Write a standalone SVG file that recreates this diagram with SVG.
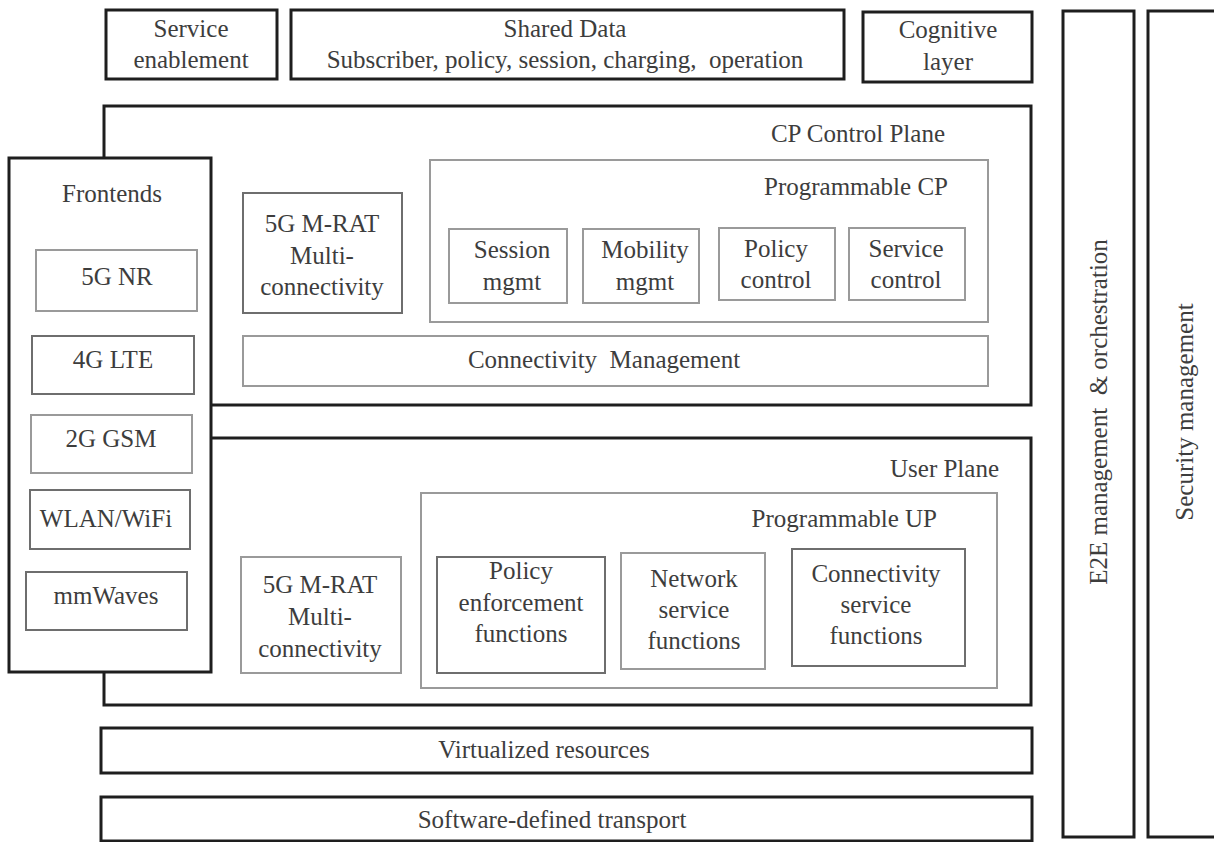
<svg xmlns="http://www.w3.org/2000/svg" width="1214" height="842" viewBox="0 0 1214 842">
  <style>
    text { font-family: "Liberation Serif", Tinos, "Times New Roman", Times, "Nimbus Roman", "DejaVu Serif", serif; font-size: 25px; fill: #3d3d3d; text-anchor: middle; }
    .r { text-anchor: end; }
    .outer { fill: none; stroke: #1e1e1e; stroke-width: 3; }
    .inner { fill: none; stroke: #9a9a9a; stroke-width: 2; }
    .mid { fill: none; stroke: #6e6e6e; stroke-width: 2; }
  </style>
  <rect width="1214" height="842" fill="#ffffff"/>

  <!-- top row -->
  <g id="service-enablement">
    <rect class="outer" x="106" y="10" width="171" height="69"/>
    <text x="191" y="37">Service</text>
    <text x="191" y="68">enablement</text>
  </g>
  <g id="shared-data">
    <rect class="outer" x="291" y="10" width="553" height="69"/>
    <text x="565" y="37">Shared Data</text>
    <text x="565" y="68" xml:space="preserve">Subscriber, policy, session, charging,  operation</text>
  </g>
  <g id="cognitive-layer">
    <rect class="outer" x="863" y="12" width="169" height="70"/>
    <text x="948" y="38">Cognitive</text>
    <text x="948" y="70">layer</text>
  </g>

  <!-- control plane -->
  <g id="control-plane">
    <rect class="outer" x="104" y="106" width="927" height="299"/>
    <text class="r" x="945" y="142">CP Control Plane</text>
  </g>
  <g id="cp-mrat">
    <rect class="mid" x="243" y="193" width="159" height="120"/>
    <text x="322" y="232">5G M-RAT</text>
    <text x="322" y="264">Multi-</text>
    <text x="322" y="295">connectivity</text>
  </g>
  <g id="programmable-cp">
    <rect class="inner" x="430" y="160" width="558" height="162"/>
    <text class="r" x="948" y="195">Programmable CP</text>
  </g>
  <g id="session-mgmt">
    <rect class="inner" x="449" y="229" width="118" height="74"/>
    <text x="512" y="258">Session</text>
    <text x="512" y="290">mgmt</text>
  </g>
  <g id="mobility-mgmt">
    <rect class="inner" x="583" y="229" width="116" height="74"/>
    <text x="645" y="258">Mobility</text>
    <text x="645" y="290">mgmt</text>
  </g>
  <g id="policy-control">
    <rect class="inner" x="719" y="228" width="116" height="72"/>
    <text x="776" y="257">Policy</text>
    <text x="776" y="288">control</text>
  </g>
  <g id="service-control">
    <rect class="inner" x="849" y="228" width="116" height="72"/>
    <text x="906" y="257">Service</text>
    <text x="906" y="288">control</text>
  </g>
  <g id="connectivity-management">
    <rect class="inner" x="243" y="336" width="745" height="50"/>
    <text x="604" y="368" xml:space="preserve">Connectivity  Management</text>
  </g>

  <!-- user plane -->
  <g id="user-plane">
    <rect class="outer" x="104" y="438" width="927" height="267"/>
    <text class="r" x="999" y="477">User Plane</text>
  </g>
  <g id="up-mrat">
    <rect class="inner" x="241" y="557" width="160" height="116"/>
    <text x="320" y="593">5G M-RAT</text>
    <text x="320" y="625">Multi-</text>
    <text x="320" y="657">connectivity</text>
  </g>
  <g id="programmable-up">
    <rect class="inner" x="421" y="493" width="576" height="195"/>
    <text class="r" x="937" y="527">Programmable UP</text>
  </g>
  <g id="policy-enforcement">
    <rect class="mid" x="437" y="557" width="168" height="116"/>
    <text x="521" y="579">Policy</text>
    <text x="521" y="611">enforcement</text>
    <text x="521" y="642">functions</text>
  </g>
  <g id="network-service">
    <rect class="inner" x="621" y="553" width="144" height="116"/>
    <text x="694" y="587">Network</text>
    <text x="694" y="618">service</text>
    <text x="694" y="649">functions</text>
  </g>
  <g id="connectivity-service">
    <rect class="mid" x="792" y="549" width="173" height="117"/>
    <text x="876" y="582">Connectivity</text>
    <text x="876" y="613">service</text>
    <text x="876" y="644">functions</text>
  </g>

  <!-- frontends (drawn over the plane frames) -->
  <g id="frontends">
    <rect x="9" y="158" width="202" height="514" fill="#ffffff" stroke="#1e1e1e" stroke-width="3"/>
    <text x="112" y="202">Frontends</text>
  </g>
  <g id="fe-5g-nr">
    <rect class="inner" x="36" y="250" width="161" height="61"/>
    <text x="117" y="285">5G NR</text>
  </g>
  <g id="fe-4g-lte">
    <rect class="mid" x="32" y="336" width="162" height="58"/>
    <text x="113" y="368">4G LTE</text>
  </g>
  <g id="fe-2g-gsm">
    <rect class="inner" x="31" y="415" width="161" height="58"/>
    <text x="111" y="447">2G GSM</text>
  </g>
  <g id="fe-wlan">
    <rect class="mid" x="30" y="490" width="160" height="59"/>
    <text x="106" y="527">WLAN/WiFi</text>
  </g>
  <g id="fe-mmwaves">
    <rect class="mid" x="26" y="572" width="161" height="58"/>
    <text x="106" y="604">mmWaves</text>
  </g>

  <!-- infrastructure layers -->
  <g id="virtualized-resources">
    <rect class="outer" x="101" y="728" width="931" height="45"/>
    <text x="544" y="758">Virtualized resources</text>
  </g>
  <g id="sdn-transport">
    <rect class="outer" x="101" y="797" width="931" height="44"/>
    <text x="552" y="828">Software-defined transport</text>
  </g>

  <!-- vertical management columns -->
  <g id="e2e-management">
    <rect class="outer" x="1063" y="11" width="71" height="826"/>
    <text transform="translate(1107 412) rotate(-90)" xml:space="preserve">E2E management  &amp; orchestration</text>
  </g>
  <g id="security-management">
    <rect class="outer" x="1148" y="11" width="72" height="826"/>
    <text transform="translate(1193 412) rotate(-90)">Security management</text>
  </g>
</svg>
